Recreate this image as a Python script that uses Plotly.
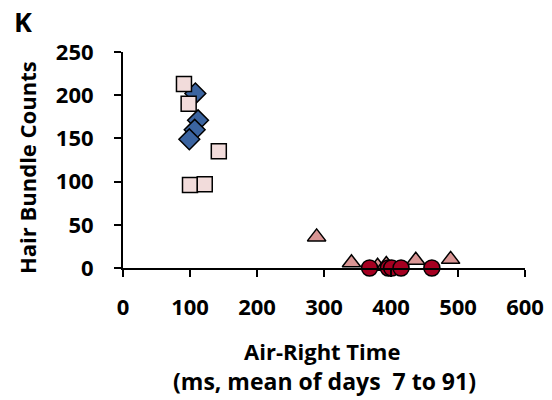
import plotly.graph_objects as go

# Data
sq_x = [91, 98, 143, 100, 122]
sq_y = [213, 190, 135, 96, 97]
dia_x = [108, 112, 107, 99]
dia_y = [202, 171, 160, 149]
tri_x = [289, 341, 380, 393, 437, 489]
tri_y = [36, 6, 2, 4, 9, 10]
cir_x = [368, 396, 401, 415, 461]
cir_y = [0, 0, 0, 0, 0]

x_ticks = [0, 100, 200, 300, 400, 500, 600]
y_ticks = [0, 50, 100, 150, 200, 250]

x_title_1 = "Air-Right Time"
x_title_2 = "(ms, mean of days  7 to 91)"
y_title = "Hair Bundle Counts"
panel = "K"

FONT = "Open Sans"
line = dict(color="black", width=1.5)

# plot area in pixels
L, R, T, B = 123, 525, 52, 268
W, H = 552, 400


def px(xp):
    return (xp - L) / (R - L)


def py(yp):
    return (B - yp) / (B - T)


fig = go.Figure()
fig.add_trace(go.Scatter(x=dia_x, y=dia_y, mode="markers", cliponaxis=False,
                         marker=dict(symbol="diamond", size=16, color="#3B64A0", line=line)))
fig.add_trace(go.Scatter(x=sq_x, y=sq_y, mode="markers", cliponaxis=False,
                         marker=dict(symbol="square", size=15, color="#F2DCDB", line=line)))
fig.add_trace(go.Scatter(x=tri_x, y=tri_y, mode="markers", cliponaxis=False,
                         marker=dict(symbol="triangle-up", size=16, color="#D99594", line=line)))
fig.add_trace(go.Scatter(x=cir_x, y=cir_y, mode="markers", cliponaxis=False,
                         marker=dict(symbol="circle", size=16, color="#A50021", line=line)))

tick_font = dict(family=FONT, size=22, weight="bold", color="black")
title_font = dict(family=FONT, size=22, weight="bold", color="black")

fig.update_layout(
    width=W, height=H,
    margin=dict(l=L, r=W - R, t=T, b=H - B),
    paper_bgcolor="white", plot_bgcolor="white",
    showlegend=False,
    font=dict(family=FONT, size=18, color="black"),
    xaxis=dict(range=[0, 600], tickvals=x_ticks, showgrid=False, zeroline=False,
               showline=True, linecolor="black", linewidth=2,
               ticks="outside", ticklen=7, tickwidth=2, tickcolor="black",
               tickfont=tick_font, ticklabelstandoff=12, automargin=False),
    yaxis=dict(range=[0, 250], tickvals=y_ticks, showgrid=False, zeroline=False,
               showline=True, linecolor="black", linewidth=2,
               ticks="outside", ticklen=7, tickwidth=2, tickcolor="black",
               tickfont=tick_font, ticklabelstandoff=16, automargin=False),
    annotations=[
        dict(text=panel, x=px(12), y=py(1), xref="paper", yref="paper",
             xanchor="left", yanchor="top", showarrow=False,
             font=dict(family=FONT, size=27, weight="bold", color="black")),
        dict(text=x_title_1, x=px(322), y=py(351), xref="paper", yref="paper",
             xanchor="center", yanchor="middle", showarrow=False, font=title_font),
        dict(text=x_title_2, x=px(324), y=py(381), xref="paper", yref="paper",
             xanchor="center", yanchor="middle", showarrow=False,
             font=dict(family=FONT, size=23, weight="bold", color="black")),
        dict(text=y_title, x=px(27), y=py(168), xref="paper", yref="paper",
             xanchor="center", yanchor="middle", showarrow=False, textangle=-90,
             font=title_font),
    ],
)

fig.write_html("out.html")
